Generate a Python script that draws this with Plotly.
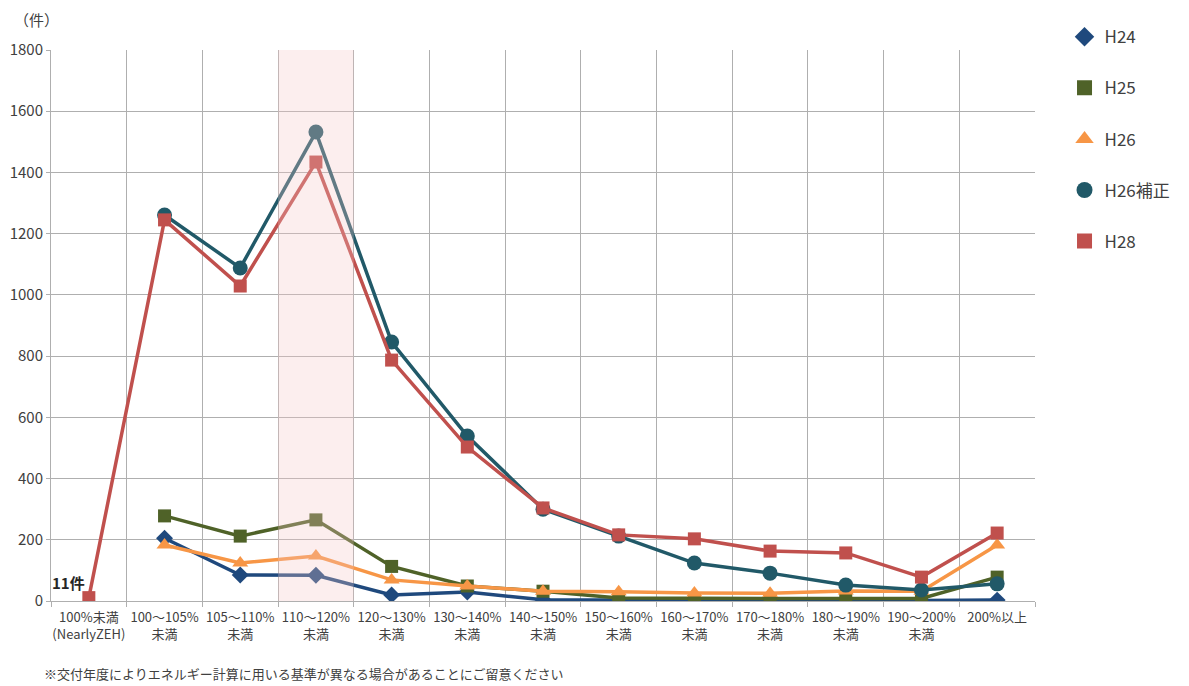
import plotly.graph_objects as go

categories = ["100%未満<br>(NearlyZEH)", "100～105%<br>未満", "105～110%<br>未満", "110～120%<br>未満",
              "120～130%<br>未満", "130～140%<br>未満", "140～150%<br>未満", "150～160%<br>未満",
              "160～170%<br>未満", "170～180%<br>未満", "180～190%<br>未満", "190～200%<br>未満", "200%以上"]

h24 = [None, 205, 85, 84, 20, 29, 4, 3, 2, 2, 2, 2, 3]
h25 = [None, 278, 212, 265, 113, 49, 32, 10, 8, 8, 8, 8, 78]
h26 = [None, 183, 124, 147, 69, 49, 32, 30, 26, 25, 33, 32, 183]
h26h = [None, 1261, 1088, 1532, 846, 539, 300, 212, 124, 91, 52, 36, 56]
h28 = [11, 1245, 1029, 1434, 787, 503, 304, 216, 203, 163, 157, 78, 222]

series = [
    ("H24", h24, "#1F497D", "diamond", 13),
    ("H25", h25, "#4F6228", "square", 13),
    ("H26", h26, "#F79646", "triangle-up", 14),
    ("H26補正", h26h, "#215968", "circle", 15),
    ("H28", h28, "#C0504D", "square", 13),
]

fig = go.Figure()
for i, (name, vals, color, sym, size) in enumerate(series):
    fig.add_trace(go.Scatter(
        x=categories, y=vals, name=name, mode="lines+markers",
        line=dict(color=color, width=3.5),
        marker=dict(symbol=sym, size=size, color=color),
        showlegend=False, connectgaps=False,
    ))
# legend entries (marker only)
for i, (name, vals, color, sym, size) in enumerate(series):
    fig.add_trace(go.Scatter(
        x=[None], y=[None], name=name, mode="markers",
        marker=dict(symbol=sym, size=size + 2, color=color),
        legendgroup=f"g{i}", showlegend=True,
    ))

fig.add_shape(type="rect", xref="x", yref="y", x0=2.5, x1=3.5, y0=0, y1=1800,
              fillcolor="rgba(245,200,200,0.3)", line=dict(width=0), layer="above")

fig.add_annotation(x=0, y=11, xref="x", yref="y", text="<b>11件</b>", showarrow=False,
                   xanchor="right", yanchor="bottom", xshift=-2, yshift=3,
                   font=dict(size=15, color="#262626"))
fig.add_annotation(x=-0.04, y=1.056, xref="paper", yref="paper", text="（件）", showarrow=False,
                   xanchor="left", yanchor="middle", font=dict(size=15, color="#404040"))
fig.add_annotation(x=-0.009, y=-0.131, xref="paper", yref="paper",
                   text="※交付年度によりエネルギー計算に用いる基準が異なる場合があることにご留意ください",
                   showarrow=False, xanchor="left", yanchor="middle", font=dict(size=13, color="#404040"))

fig.update_layout(
    width=1181, height=678,
    margin=dict(l=43, r=154, t=42, b=85, autoexpand=False),
    paper_bgcolor="white", plot_bgcolor="white",
    font=dict(family="Noto Sans CJK JP", color="#404040"),
    showlegend=True,
    legend=dict(x=1.03, y=1.056, xanchor="left", yanchor="top", tracegroupgap=26,
                font=dict(size=17, color="#404040"), bgcolor="rgba(0,0,0,0)"),
)
fig.update_xaxes(type="category", tickson="boundaries", showgrid=True, gridcolor="#AFAFAF", gridwidth=1,
                 ticks="outside", ticklen=5, tickcolor="#AFAFAF", showline=True, linecolor="#AFAFAF",
                 tickfont=dict(size=13, color="#404040"), tickangle=0, range=[-0.5, 12.5],
                 ticklabelstandoff=4)
fig.update_yaxes(range=[0, 1800], dtick=200, showgrid=True, gridcolor="#AFAFAF", gridwidth=1,
                 ticks="outside", ticklen=4, tickcolor="#AFAFAF", showline=True, linecolor="#AFAFAF",
                 tickfont=dict(size=15, color="#404040"), zeroline=False)

fig.write_html("out.html")
